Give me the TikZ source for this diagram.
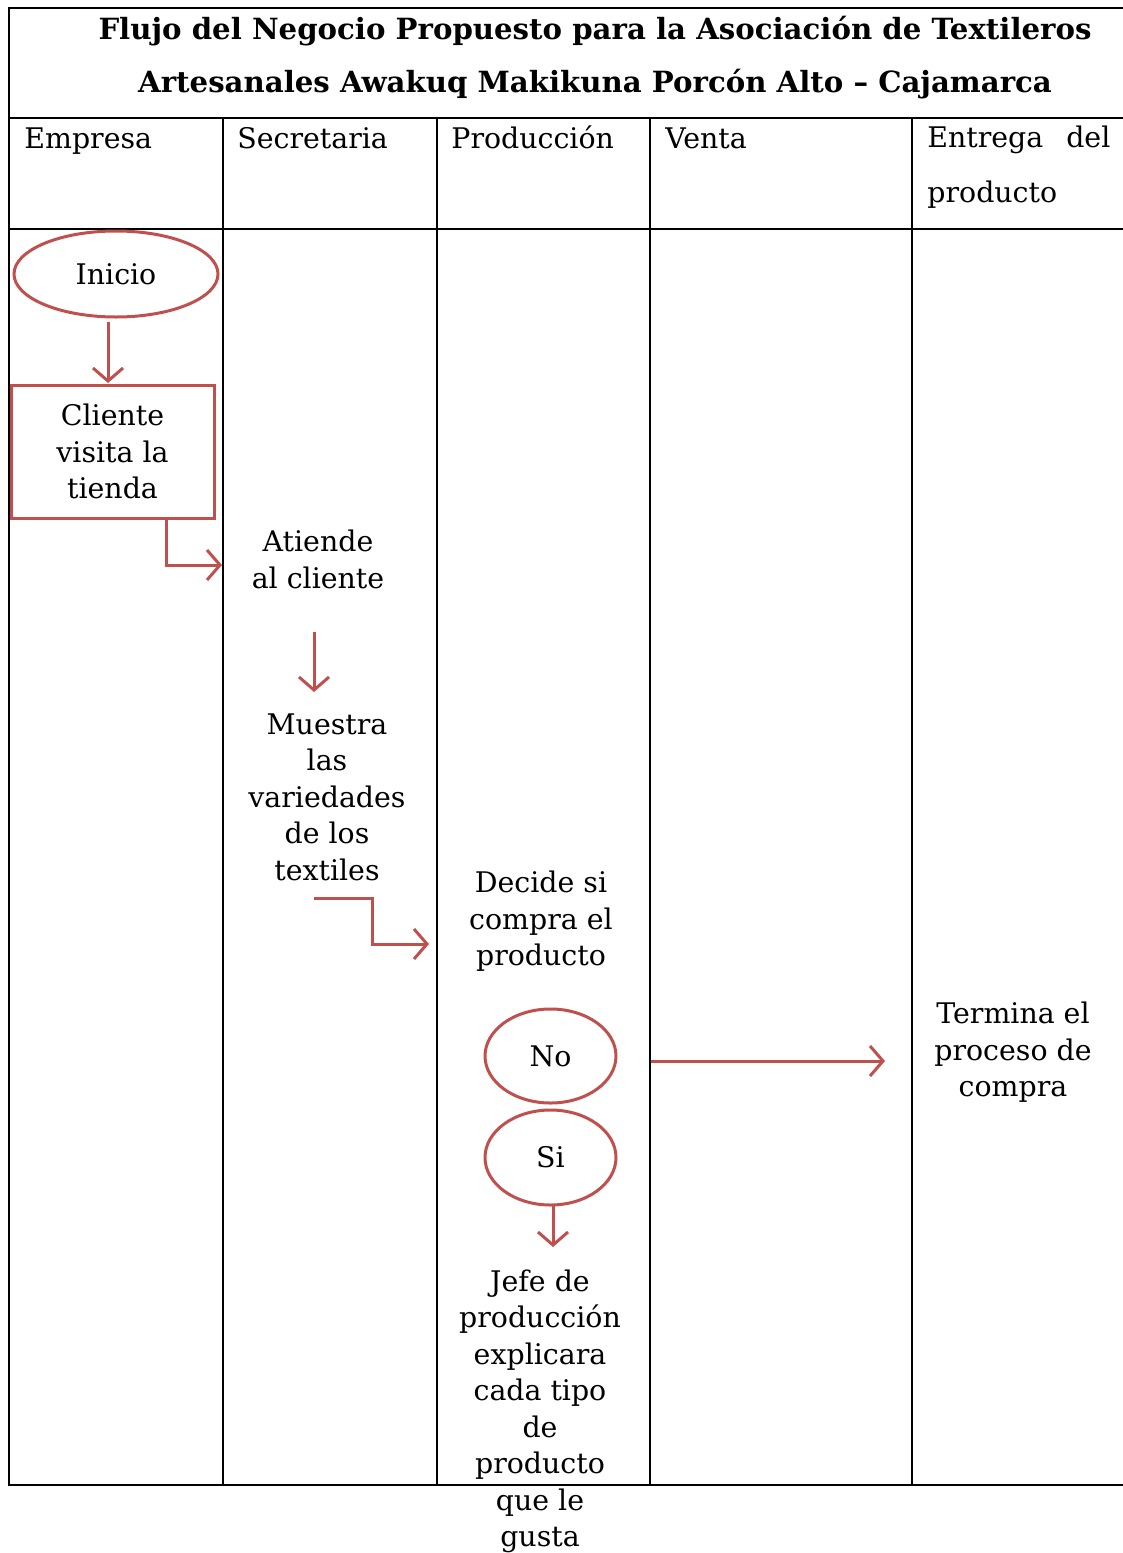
\documentclass[tikz,border=0pt]{standalone}
\usepackage{fontspec}
\setmainfont{DejaVu Serif}
\usetikzlibrary{shapes.geometric,arrows.meta}
\definecolor{acc}{HTML}{C0504D}
\begin{document}
\begin{tikzpicture}[x=0.5pt,y=-0.5pt,
  tableline/.style={line width=1pt,black},
  flow/.style={draw=acc,line width=1.5pt,-{Straight Barb[length=6.5pt,width=15pt,line width=1.5pt]}},
  txt/.style={align=center,font=\fontsize{14.2}{18.25}\selectfont,inner sep=0pt},
  hdr/.style={anchor=base west,align=left,font=\fontsize{14.2}{27.5}\selectfont,inner sep=0pt},
  hdrtwo/.style={anchor=west,align=left,font=\fontsize{14.2}{27.5}\selectfont,inner sep=0pt},
  ttl/.style={align=center,font=\bfseries\fontsize{14.6}{26.5}\selectfont,inner sep=0pt},
  oval/.style={ellipse,draw=acc,line width=1.5pt,inner sep=0pt,txt},
  procbox/.style={rectangle,draw=acc,line width=1.5pt,inner sep=0pt,txt}]
\useasboundingbox (0,0) rectangle (1123,1553);
% table
\draw[tableline] (1123,8) -- (9,8) -- (9,1485) -- (1123,1485);
\draw[tableline] (9,118) -- (1123,118);
\draw[tableline] (9,229) -- (1123,229);
\foreach \xx in {223,437,650,912} \draw[tableline] (\xx,118) -- (\xx,1485);
% title
\node[ttl] (title) at (595,57.5) {Flujo del Negocio Propuesto para la Asociación de Textileros\\Artesanales Awakuq Makikuna Porcón Alto – Cajamarca};
% headers
\node[hdr] (hEmp) at (24,148.5) {Empresa};
\node[hdr] (hSec) at (237,148.5) {Secretaria};
\node[hdr] (hPro) at (451,148.5) {Producción};
\node[hdr] (hVen) at (665,148.5) {Venta};
\node[hdrtwo] (hEnt) at (927,167) {\makebox[91.5pt][s]{Entrega\hfill del}\\producto};
% flow nodes
\node[oval,minimum width=102pt,minimum height=43pt] (inicio) at (116,274) {Inicio};
\node[procbox,minimum width=101.5pt,minimum height=66.5pt] (cliente) at (112.5,451.5) {Cliente\\visita la\\tienda};
\node[txt] (atiende) at (318,559.5) {Atiende\\al cliente};
\node[txt] (muestra) at (327,797) {Muestra\\las\\variedades\\de los\\textiles};
\node[txt] (decide) at (541,921.5) {Decide si\\compra el\\producto};
\node[oval,minimum width=65.5pt,minimum height=47pt] (no) at (550.5,1056) {No};
\node[oval,minimum width=65.5pt,minimum height=47.5pt] (si) at (550.5,1157.5) {Si};
\node[txt] (termina) at (1013,1052.5) {Termina el\\proceso de\\compra};
\node[txt] (jefe) at (540,1411.5) {Jefe de\\producción\\explicara\\cada tipo\\de\\producto\\que le\\gusta};
% connectors
\coordinate (c1) at (108,322);
\coordinate (c2) at (108,383);
\draw[flow] (c1) -- (c2);
\coordinate (c3) at (108,518);
\coordinate (c4) at (222,565);
\draw[flow] (c3) -- (166,518) |- (c4);
\coordinate (c5) at (314,632);
\coordinate (c6) at (314,692);
\draw[flow] (c5) -- (c6);
\coordinate (c7) at (314,898);
\coordinate (c8) at (429,944);
\draw[flow] (c7) -- (372,898) |- (c8);
\coordinate (c9) at (651,1061);
\coordinate (c10) at (885,1061);
\draw[flow] (c9) -- (c10);
\coordinate (c11) at (553,1205);
\coordinate (c12) at (553,1247);
\draw[flow] (c11) -- (c12);
\end{tikzpicture}
\end{document}
